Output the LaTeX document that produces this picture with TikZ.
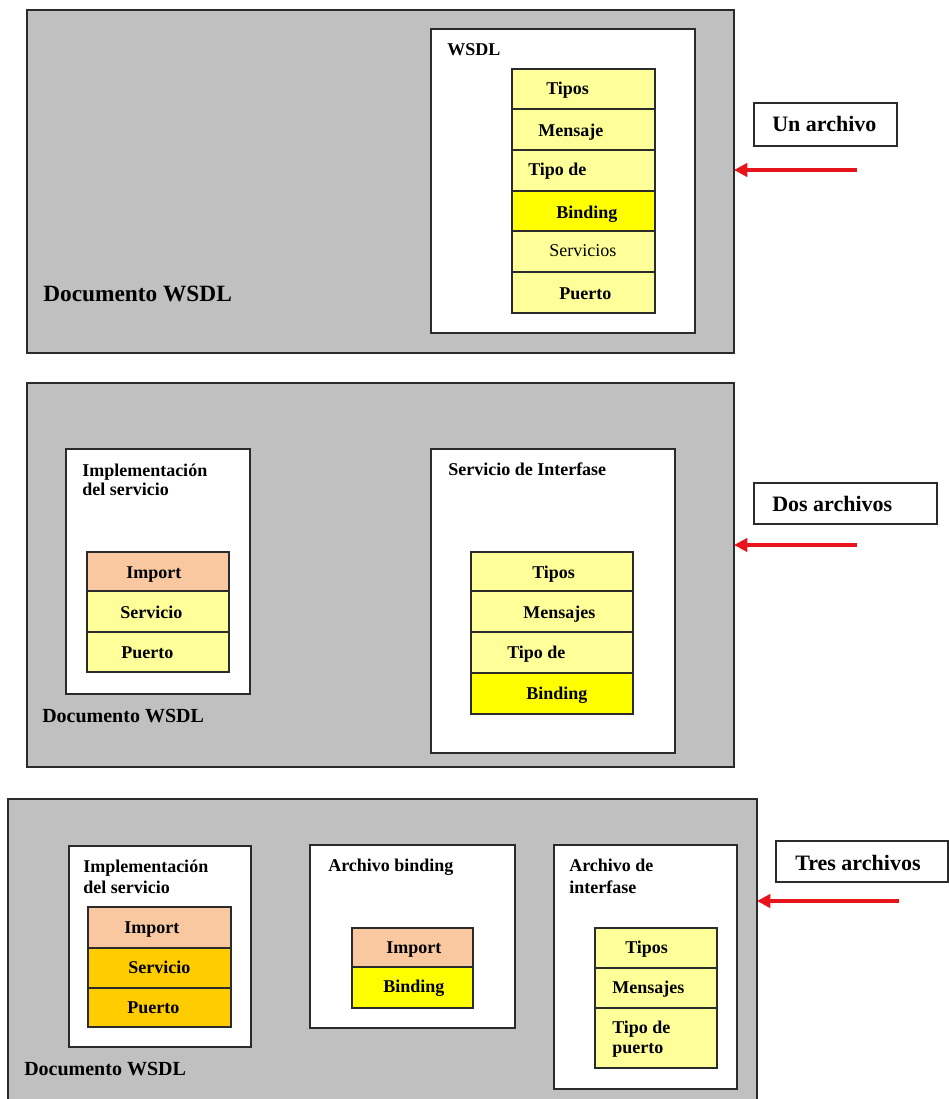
\documentclass[tikz,border=0pt]{standalone}
\usepackage{fontspec}
\setmainfont{Liberation Serif}
\usetikzlibrary{arrows.meta}

\definecolor{panelgray}{HTML}{C0C0C0}
\definecolor{edgegray}{HTML}{2B2B2B}
\definecolor{paleyellow}{HTML}{FFFF99}
\definecolor{brightyellow}{HTML}{FFFF00}
\definecolor{peach}{HTML}{FAC8A0}
\definecolor{gold}{HTML}{FFCC00}
\definecolor{arrowred}{HTML}{E8141C}

\tikzset{
  panel/.style={draw=edgegray, line width=1.5pt, fill=panelgray},
  card/.style={draw=edgegray, line width=1.2pt, fill=white},
  cell/.style={draw=edgegray, line width=1.2pt},
  tag/.style={font=\bfseries\fontsize{13.5}{16}\selectfont, inner sep=0pt, anchor=base west},
  plaintag/.style={font=\fontsize{13.5}{16}\selectfont, inner sep=0pt, anchor=base west},
  doctag/.style={font=\bfseries\fontsize{15}{18}\selectfont, inner sep=0pt, anchor=base west},
  bigtag/.style={font=\bfseries\fontsize{16.5}{20}\selectfont, inner sep=0pt, anchor=base west},
  callout/.style={draw=edgegray, line width=1.2pt, fill=white},
  pointer/.style={draw=arrowred, line width=2.8pt, -{Triangle[length=10pt,width=10pt]}}
}

% rectangle node given by its corners (x1,y1) and (x2,y2), y growing downwards
\newcommand\boxat[6]{%
  \node[#6, anchor=north west, inner sep=0pt, outer sep=0pt,
        minimum width={(#4-#2)*0.75pt}, minimum height={(#5-#3)*0.75pt}]
        (#1) at (#2,#3) {};}

\begin{document}
\begin{tikzpicture}[x=0.75pt, y=-0.75pt]
\path[use as bounding box] (0,0) rectangle (949,1099);
\clip (0,0) rectangle (949,1099);

% ---------- one file ----------
\boxat{panelA}{27}{10}{734}{353}{panel}
\boxat{cardA}{431}{29}{695}{333}{card}
\boxat{a1}{512}{69}{655}{109}{cell, fill=paleyellow}
\boxat{a2}{512}{109}{655}{150}{cell, fill=paleyellow}
\boxat{a3}{512}{150}{655}{191}{cell, fill=paleyellow}
\boxat{a4}{512}{191}{655}{231}{cell, fill=brightyellow}
\boxat{a5}{512}{231}{655}{272}{cell, fill=paleyellow}
\boxat{a6}{512}{272}{655}{313}{cell, fill=paleyellow}
\node[tag] (tA) at (447,56) {WSDL};
\node[tag] (ta1) at (546,94) {Tipos};
\node[tag] (ta2) at (538,136) {Mensaje};
\node[tag] (ta3) at (528,175) {Tipo de};
\node[tag] (ta4) at (556,218) {Binding};
\node[plaintag] (ta5) at (549,256) {Servicios};
\node[tag] (ta6) at (559,299) {Puerto};
\node[doctag, font=\bfseries\fontsize{17.5}{20}\selectfont] (docA) at (43,301) {Documento WSDL};
\boxat{calloutA}{754}{103}{897}{146}{callout}
\node[bigtag] (tcA) at (772,132) {Un archivo};
\coordinate (tailA) at (857,170);
\draw[pointer] (tailA) -- (tailA -| panelA.east);

% ---------- two files ----------
\boxat{panelB}{27}{383}{734}{767}{panel}
\boxat{cardB1}{66}{449}{250}{694}{card}
\boxat{b1}{87}{552}{229}{591}{cell, fill=peach}
\boxat{b2}{87}{591}{229}{632}{cell, fill=paleyellow}
\boxat{b3}{87}{632}{229}{672}{cell, fill=paleyellow}
\node[tag] (tB1a) at (82,476) {Implementación};
\node[tag] (tB1b) at (82,495) {del servicio};
\node[tag] (tb1) at (126,578) {Import};
\node[tag] (tb2) at (120,618) {Servicio};
\node[tag] (tb3) at (121,658) {Puerto};
\node[doctag] (docB) at (42,722) {Documento WSDL};
\boxat{cardB2}{431}{449}{675}{753}{card}
\boxat{c1}{471}{552}{633}{591}{cell, fill=paleyellow}
\boxat{c2}{471}{591}{633}{632}{cell, fill=paleyellow}
\boxat{c3}{471}{632}{633}{673}{cell, fill=paleyellow}
\boxat{c4}{471}{673}{633}{714}{cell, fill=brightyellow}
\node[tag] (tB2) at (448,475) {Servicio de Interfase};
\node[tag] (tc1) at (532,578) {Tipos};
\node[tag] (tc2) at (523,618) {Mensajes};
\node[tag] (tc3) at (507,658) {Tipo de};
\node[tag] (tc4) at (526,699) {Binding};
\boxat{calloutB}{754}{483}{937}{524}{callout}
\node[bigtag] (tcB) at (772,511) {Dos archivos};
\coordinate (tailB) at (857,545);
\draw[pointer] (tailB) -- (tailB -| panelB.east);

% ---------- three files ----------
\boxat{panelC}{8}{799}{757}{1115}{panel}
\boxat{cardC1}{69}{846}{251}{1047}{card}
\boxat{d1}{88}{907}{231}{948}{cell, fill=peach}
\boxat{d2}{88}{948}{231}{988}{cell, fill=gold}
\boxat{d3}{88}{988}{231}{1027}{cell, fill=gold}
\node[tag] (tC1a) at (83,872) {Implementación};
\node[tag] (tC1b) at (83,893) {del servicio};
\node[tag] (td1) at (124,933) {Import};
\node[tag] (td2) at (128,973) {Servicio};
\node[tag] (td3) at (127,1013) {Puerto};
\node[doctag] (docC) at (24,1075) {Documento WSDL};
\boxat{cardC2}{310}{845}{515}{1028}{card}
\boxat{e1}{352}{928}{473}{967}{cell, fill=peach}
\boxat{e2}{352}{967}{473}{1008}{cell, fill=brightyellow}
\node[tag] (tC2) at (328,871) {Archivo binding};
\node[tag] (te1) at (386,953) {Import};
\node[tag] (te2) at (383,992) {Binding};
\boxat{cardC3}{554}{845}{737}{1089}{card}
\boxat{f1}{595}{928}{717}{968}{cell, fill=paleyellow}
\boxat{f2}{595}{968}{717}{1008}{cell, fill=paleyellow}
\boxat{f3}{595}{1008}{717}{1068}{cell, fill=paleyellow}
\node[tag] (tC3a) at (569,871) {Archivo de};
\node[tag] (tC3b) at (569,893) {interfase};
\node[tag] (tf1) at (625,953) {Tipos};
\node[tag] (tf2) at (612,993) {Mensajes};
\node[tag] (tf3a) at (612,1033) {Tipo de};
\node[tag] (tf3b) at (612,1053) {puerto};
\boxat{calloutC}{776}{841}{948}{882}{callout}
\node[bigtag] (tcC) at (795,870) {Tres archivos};
\coordinate (tailC) at (899,901);
\draw[pointer] (tailC) -- (tailC -| panelC.east);
\end{tikzpicture}
\end{document}
